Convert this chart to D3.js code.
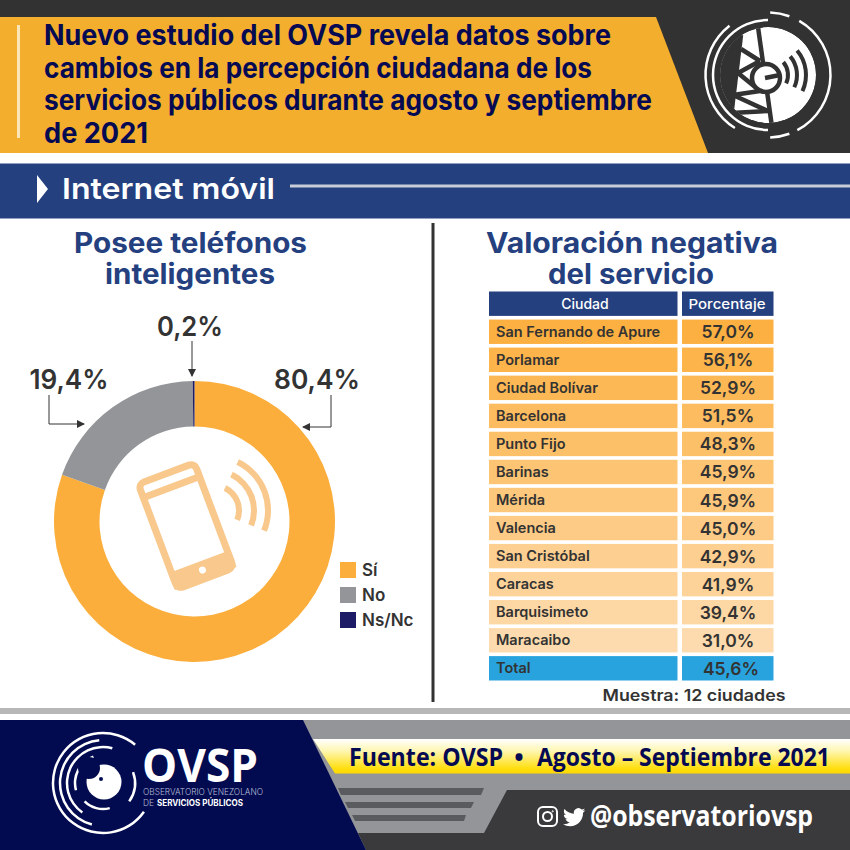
<!DOCTYPE html>
<html>
<head>
<meta charset="utf-8">
<script src="https://cdn.jsdelivr.net/npm/d3@7"></script>
<style>
    html, body { margin: 0; padding: 0; background: #fff; }
    svg { display: block; }
    text { font-family: Inter, "Noto Sans", sans-serif; }
</style>
</head>
<body>
<svg id="chart" width="850" height="850"></svg>
<script>
// donut data
var answers = ["Sí", "No", "Ns/Nc"]
var answerValues = [80.4, 19.4, 0.2]
var answerColors = ["#fbae3c", "#939598", "#1d1b66"]

// table data
var cities = ["San Fernando de Apure", "Porlamar", "Ciudad Bolívar", "Barcelona", "Punto Fijo", "Barinas",
    "Mérida", "Valencia", "San Cristóbal", "Caracas", "Barquisimeto", "Maracaibo"]
var cityValues = [57.0, 56.1, 52.9, 51.5, 48.3, 45.9, 45.9, 45.0, 42.9, 41.9, 39.4, 31.0]
var totalLabel = "Total"
var totalValue = 45.6

var titleLines = ["Nuevo estudio del OVSP revela datos sobre",
    "cambios en la percepción ciudadana de los",
    "servicios públicos durante agosto y septiembre",
    "de 2021"]

var navy = "#050a52"
var blue = "#24407f"
var dark = "#333233"
var ink = "#333333"

var svg = d3.select("#chart")
var esLocale = d3.formatLocale({ decimal: ",", thousands: ".", grouping: [3], currency: ["", ""] })
var pct = function (v) { return esLocale.format(".1f")(v) + "%" }
var line = d3.line()

function poly(points, fill) {
    return svg.append("path").attr("d", line(points) + "Z").attr("fill", fill)
}

function addText(parent, x, y, str, size, weight, fill, anchor, width) {
    let t = parent.append("text")
        .attr("x", x)
        .attr("y", y)
        .attr("font-size", size)
        .attr("font-weight", weight)
        .attr("fill", fill)
        .attr("text-anchor", anchor || "start")
        .text(str)
    if (width) {
        t.attr("textLength", width).attr("lengthAdjust", "spacingAndGlyphs")
    }
    return t
}

function ring(parent, r, w, from, to, fill) {
    parent.append("path")
        .attr("d", d3.arc()({
            innerRadius: r - w / 2,
            outerRadius: r + w / 2,
            startAngle: from * Math.PI / 180,
            endAngle: to * Math.PI / 180
        }))
        .attr("fill", fill || "#fff")
}

var defs = svg.append("defs")
var yellowGrad = defs.append("linearGradient").attr("id", "yellowGrad")
    .attr("x1", 0).attr("y1", 0).attr("x2", 0).attr("y2", 1)
yellowGrad.append("stop").attr("offset", "0%").attr("stop-color", "#ffffff")
yellowGrad.append("stop").attr("offset", "35%").attr("stop-color", "#fff6b0")
yellowGrad.append("stop").attr("offset", "85%").attr("stop-color", "#ffdf10")
yellowGrad.append("stop").attr("offset", "100%").attr("stop-color", "#ffd800")

// header
svg.append("rect").attr("width", 850).attr("height", 153).attr("fill", dark)
poly([[0, 17], [656, 17], [708, 153], [0, 153]], "#f4ae2e")
svg.append("rect").attr("x", 17).attr("y", 25).attr("width", 3).attr("height", 113).attr("fill", "#fbe6b8")

var titleWidths = [567, 548, 608, 104]
titleLines.forEach(function (d, i) {
    addText(svg, 44, 45 + i * 32.6, d, 28, 700, navy, "start", titleWidths[i])
})

// antenna logo, top right
var antenna = svg.append("g").attr("transform", "translate(768,75)")
ring(antenna, 62.5, 2.5, 2, 20)
ring(antenna, 62.5, 2.5, 30, 152)
ring(antenna, 62.5, 2.5, 160, 178)
ring(antenna, 62.5, 2.5, 212, 322)
ring(antenna, 55, 2.5, 180, 360)
defs.append("clipPath").attr("id", "discClip").append("circle").attr("r", 48)
var disc = antenna.append("g").attr("clip-path", "url(#discClip)")
disc.append("circle").attr("r", 48).attr("fill", "#fff")
disc.append("path").attr("d", "M-60,-60L-27,-40L-37,42L-60,60Z").attr("fill", dark)
disc.selectAll("path.lattice")
    .data(["M-27,-40L-37,42", "M-10,-48L4,52", "M-27,-26L-8,-14", "M-30,-2L-8,-14", "M-30,-2L-8,16",
        "M-35,20L-8,16", "M-35,20L0,36", "M-37,38L0,36"])
    .enter().append("path")
    .attr("class", "lattice")
    .attr("d", d => d)
    .attr("stroke", dark)
    .attr("stroke-width", 4.5)
    .attr("fill", "none")
antenna.append("circle").attr("cx", -2).attr("cy", 3).attr("r", 14).attr("fill", "#fff").attr("stroke", dark).attr("stroke-width", 4.5)
antenna.append("path").attr("d", "M-3,3L12,0").attr("stroke", dark).attr("stroke-width", 4.5)
ring(antenna, 20, 4, 50, 115, dark)
ring(antenna, 29, 4, 50, 115, dark)
ring(antenna, 38, 4, 50, 115, dark)

// section bar
svg.append("rect").attr("y", 163.5).attr("width", 850).attr("height", 55).attr("fill", blue)
poly([[37, 175], [48, 189], [37, 203]], "#fff")
addText(svg, 62, 199, "Internet móvil", 29, 600, "#fff", "start", 213)
svg.append("rect").attr("x", 290).attr("y", 184.5).attr("width", 560).attr("height", 3).attr("fill", "#c9cdd8")

svg.append("rect").attr("x", 431.5).attr("y", 223).attr("width", 3).attr("height", 479).attr("fill", dark)

// panel titles
addText(svg, 190.5, 253, "Posee teléfonos", 28, 700, blue, "middle", 233)
addText(svg, 190, 284, "inteligentes", 28, 700, blue, "middle", 170)
addText(svg, 632, 253, "Valoración negativa", 28, 700, blue, "middle", 292)
addText(svg, 631, 284, "del servicio", 28, 700, blue, "middle", 166)

// donut
var cx = 194.5, cy = 521.5
var pie = d3.pie().sort(null).value(d => d)
var arc = d3.arc().innerRadius(95).outerRadius(140.5)
var donut = svg.append("g").attr("transform", "translate(" + cx + "," + cy + ")")
donut.selectAll("path")
    .data(pie(answerValues))
    .enter().append("path")
    .attr("d", arc)
    .attr("fill", (d, i) => answerColors[i])

// phone icon
var phoneColor = "#f8c88c"
var phone = svg.append("g").attr("transform", "translate(186,526) rotate(-20.5)")
phone.append("rect").attr("x", -30).attr("y", -56).attr("width", 60).attr("height", 112).attr("rx", 6)
    .attr("fill", "#fff").attr("stroke", phoneColor).attr("stroke-width", 7)
phone.append("rect").attr("x", -33).attr("y", -45).attr("width", 66).attr("height", 7).attr("fill", phoneColor)
phone.append("rect").attr("x", -33).attr("y", 38).attr("width", 66).attr("height", 18).attr("fill", phoneColor)
phone.append("rect").attr("x", -10).attr("y", -51).attr("width", 20).attr("height", 2).attr("fill", "#fff")
phone.append("circle").attr("cx", 0).attr("cy", 47).attr("r", 3.5).attr("fill", "#fff")
var waves = svg.append("g").attr("transform", "translate(214,510.5)")
ring(waves, 25, 6, 26, 112, phoneColor)
ring(waves, 40, 6, 26, 112, phoneColor)
ring(waves, 54, 6, 26, 112, phoneColor)

// callouts
var arrowColor = "#333"
defs.append("marker").attr("id", "arrow")
    .attr("viewBox", "0 0 8 8").attr("refX", 7).attr("refY", 4)
    .attr("markerWidth", 8).attr("markerHeight", 8).attr("markerUnits", "userSpaceOnUse")
    .attr("orient", "auto")
    .append("path").attr("d", "M0,0L8,4L0,8Z").attr("fill", arrowColor)
var callouts = [
    [[192, 341], [192, 376]],
    [[49, 395], [49, 424], [84, 424]],
    [[331, 395], [331, 427], [303, 427]]
]
svg.selectAll("path.callout")
    .data(callouts)
    .enter().append("path")
    .attr("class", "callout")
    .attr("d", line)
    .attr("fill", "none")
    .attr("stroke", arrowColor)
    .attr("stroke-width", 1)
    .attr("marker-end", "url(#arrow)")

addText(svg, 317, 389, pct(answerValues[0]), 27, 600, ink, "middle", 86)
addText(svg, 69, 389, pct(answerValues[1]), 27, 600, ink, "middle", 79)
addText(svg, 190, 336, pct(answerValues[2]), 27, 600, ink, "middle", 66)

// legend
var legendY = d3.scalePoint().domain(answers).range([570, 620])
var legend = svg.selectAll("g.legend")
    .data(answers)
    .enter().append("g")
    .attr("class", "legend")
    .attr("transform", d => "translate(340," + legendY(d) + ")")
legend.append("rect").attr("y", -8).attr("width", 16).attr("height", 16).attr("fill", (d, i) => answerColors[i])
legend.each(function (d) {
    addText(d3.select(this), 22, 6, d, 17, 600, ink)
})

// table
var rowNames = ["Ciudad"].concat(cities, [totalLabel])
var rowY = d3.scaleBand().domain(rowNames).range([291.5, 680.5]).paddingInner(0.13).paddingOuter(0)
var rowColor = d3.scaleLinear().domain([0, cities.length - 1]).range(["#fcb041", "#fddbae"])
var leftX = 489, leftW = 188.5, rightX = 682, rightW = 91.5

var rows = svg.selectAll("g.row")
    .data(cities)
    .enter().append("g")
    .attr("class", "row")
    .attr("transform", d => "translate(0," + rowY(d) + ")")
rows.append("rect").attr("x", leftX).attr("width", leftW).attr("height", rowY.bandwidth()).attr("fill", (d, i) => rowColor(i))
rows.append("rect").attr("x", rightX).attr("width", rightW).attr("height", rowY.bandwidth()).attr("fill", (d, i) => rowColor(i))
rows.each(function (d, i) {
    let g = d3.select(this)
    addText(g, 496, rowY.bandwidth() / 2 + 5, d, 14.5, 600, ink)
    addText(g, 728, rowY.bandwidth() / 2 + 6.5, pct(cityValues[i]), 17.5, 600, ink, "middle")
})

var headRow = svg.append("g").attr("transform", "translate(0," + rowY("Ciudad") + ")")
headRow.append("rect").attr("x", leftX).attr("width", leftW).attr("height", rowY.bandwidth()).attr("fill", blue)
headRow.append("rect").attr("x", rightX).attr("width", rightW).attr("height", rowY.bandwidth()).attr("fill", blue)
addText(headRow, 585, rowY.bandwidth() / 2 + 5, "Ciudad", 14, 500, "#fff", "middle")
addText(headRow, 727, rowY.bandwidth() / 2 + 5, "Porcentaje", 13.5, 500, "#fff", "middle", 77)

var totalRow = svg.append("g").attr("transform", "translate(0," + rowY(totalLabel) + ")")
totalRow.append("rect").attr("x", leftX).attr("width", leftW).attr("height", rowY.bandwidth()).attr("fill", "#29a3de")
totalRow.append("rect").attr("x", rightX).attr("width", rightW).attr("height", rowY.bandwidth()).attr("fill", "#29a3de")
addText(totalRow, 496, rowY.bandwidth() / 2 + 5, totalLabel, 14.5, 600, ink)
addText(totalRow, 731, rowY.bandwidth() / 2 + 6.5, pct(totalValue), 17.5, 600, ink, "middle")

addText(svg, 694, 701, "Muestra: 12 ciudades", 16, 600, ink, "middle", 183)

// footer
svg.append("rect").attr("y", 708).attr("width", 850).attr("height", 6).attr("fill", "#b7b7b7")
svg.append("rect").attr("y", 720).attr("width", 850).attr("height", 130).attr("fill", "#939598")
poly([[313, 739], [850, 739], [850, 773.5], [335, 773.5]], "url(#yellowGrad)")
poly([[338, 788], [484, 788], [481, 795], [341, 795]], "#5a5b5e")
poly([[345, 802], [474, 802], [471, 808], [348, 808]], "#5a5b5e")
poly([[352, 815], [466, 815], [464, 821], [355, 821]], "#5a5b5e")
poly([[507, 790], [850, 790], [850, 850], [366, 850], [358, 833], [484, 833]], "#3a393b")
poly([[0, 720], [303, 720], [366, 850], [0, 850]], "#020b50")

addText(svg, 349, 766, "Fuente: OVSP", 25, 700, navy, "start", 154)
    .style("font-family", "'Open Sans'")
addText(svg, 519, 766, "•", 25, 700, navy, "middle")
    .style("font-family", "'Open Sans'")
addText(svg, 537, 766, "Agosto – Septiembre 2021", 25, 700, navy, "start", 293)
    .style("font-family", "'Open Sans'")
addText(svg, 590, 826, "@observatoriovsp", 28, 700, "#fff", "start", 223)
    .style("font-family", "'Open Sans'")

// instagram and twitter glyphs
var insta = svg.append("g").attr("transform", "translate(538,807)").attr("fill", "none").attr("stroke", "#fff")
insta.append("rect").attr("width", 19).attr("height", 19).attr("rx", 5).attr("stroke-width", 2)
insta.append("circle").attr("cx", 9.5).attr("cy", 9.5).attr("r", 4.5).attr("stroke-width", 2)
insta.append("circle").attr("cx", 14.7).attr("cy", 4.3).attr("r", 0.6).attr("stroke-width", 1)
svg.append("path")
    .attr("transform", "translate(563,806) scale(0.93)")
    .attr("fill", "#fff")
    .attr("d", "M23.953 4.57a10 10 0 01-2.825.775 4.958 4.958 0 002.163-2.723c-.951.555-2.005.959-3.127 1.184a4.92 4.92 0 00-8.384 4.482C7.69 8.095 4.067 6.13 1.64 3.162a4.822 4.822 0 00-.666 2.475c0 1.71.87 3.213 2.188 4.096a4.904 4.904 0 01-2.228-.616v.06a4.923 4.923 0 003.946 4.827 4.996 4.996 0 01-2.212.085 4.936 4.936 0 004.604 3.417 9.867 9.867 0 01-6.102 2.105c-.39 0-.779-.023-1.17-.067a13.995 13.995 0 007.557 2.209c9.053 0 13.998-7.496 13.998-13.985 0-.21 0-.42-.015-.63A9.935 9.935 0 0024 4.59z")

// OVSP logo
var ovsp = svg.append("g").attr("transform", "translate(103,783)")
ring(ovsp, 50, 2.5, 125, 400)
ring(ovsp, 43, 2.5, 195, 355)
ring(ovsp, 36, 2.5, 215, 375)
ring(ovsp, 28, 2.5, 255, 340)
ring(ovsp, 32, 2.5, 70, 125)
ring(ovsp, 26, 2.5, 165, 225)
ovsp.append("circle").attr("cx", 1).attr("cy", -1).attr("r", 17.5).attr("fill", "#fff")
ovsp.append("circle").attr("cx", -14).attr("cy", -15).attr("r", 11).attr("fill", "#020b50")
ovsp.append("circle").attr("cx", -2).attr("cy", -4).attr("r", 2).attr("fill", "#020b50")

addText(svg, 142, 782, "OVSP", 47, 700, "#fff", "start", 116)
    .style("font-family", "'Open Sans'")
addText(svg, 143, 795, "OBSERVATORIO VENEZOLANO", 8.5, 300, "#b9bdd6", "start", 120)
addText(svg, 143, 806, "DE", 8.5, 300, "#b9bdd6", "start", 11)
addText(svg, 157, 806, "SERVICIOS PÚBLICOS", 8.5, 700, "#fff", "start", 86)
</script>
</body>
</html>
